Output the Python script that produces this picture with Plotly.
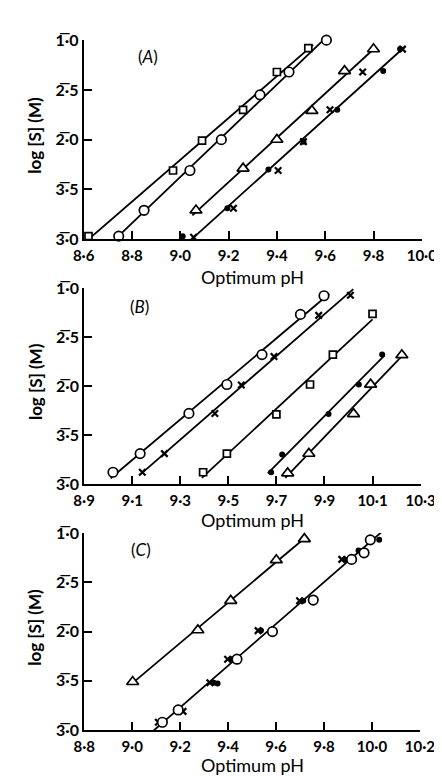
import numpy as np
import plotly.graph_objects as go

# ---------------- data ----------------
# Panel A
a_sq_x = [8.62, 8.97, 9.09, 9.26, 9.40, 9.53]
a_sq_y = [-2.97, -2.31, -2.01, -1.70, -1.32, -1.08]
a_ci_x = [8.745, 8.85, 9.04, 9.17, 9.33, 9.45, 9.605]
a_ci_y = [-2.97, -2.71, -2.31, -2.00, -1.55, -1.32, -1.00]
a_tr_x = [9.065, 9.26, 9.40, 9.545, 9.68, 9.80]
a_tr_y = [-2.71, -2.29, -2.00, -1.71, -1.31, -1.09]
a_dot_x = [9.01, 9.195, 9.365, 9.51, 9.65, 9.84, 9.91]
a_dot_y = [-2.97, -2.69, -2.30, -2.02, -1.70, -1.31, -1.09]
a_x_x = [9.055, 9.22, 9.405, 9.51, 9.62, 9.755, 9.92]
a_x_y = [-2.98, -2.69, -2.31, -2.02, -1.70, -1.32, -1.09]

# Panel B
b_ci_x = [9.02, 9.133, 9.336, 9.494, 9.64, 9.80, 9.898]
b_ci_y = [-2.88, -2.69, -2.28, -1.985, -1.68, -1.27, -1.08]
b_x_x = [9.142, 9.234, 9.444, 9.554, 9.69, 9.876, 10.008]
b_x_y = [-2.88, -2.69, -2.28, -1.99, -1.70, -1.28, -1.075]
b_sq_x = [9.395, 9.494, 9.70, 9.84, 9.935, 10.10]
b_sq_y = [-2.88, -2.69, -2.29, -1.985, -1.68, -1.265]
b_dot_x = [9.678, 9.724, 9.917, 10.043, 10.14]
b_dot_y = [-2.88, -2.70, -2.285, -1.985, -1.68]
b_tr_x = [9.747, 9.835, 10.021, 10.092, 10.222]
b_tr_y = [-2.89, -2.69, -2.285, -1.985, -1.685]

# Panel C
c_tr_x = [9.002, 9.274, 9.411, 9.601, 9.718]
c_tr_y = [-2.51, -1.985, -1.686, -1.274, -1.06]
c_ci_x = [9.126, 9.192, 9.437, 9.585, 9.755, 9.915, 9.967, 9.993]
c_ci_y = [-2.92, -2.795, -2.28, -2.00, -1.68, -1.267, -1.20, -1.069]
c_x_x = [9.109, 9.212, 9.324, 9.398, 9.525, 9.698, 9.874]
c_x_y = [-2.92, -2.81, -2.52, -2.28, -1.99, -1.686, -1.267]
c_dot_x = [9.34, 9.356, 9.415, 9.537, 9.713, 9.886, 9.944, 10.03]
c_dot_y = [-2.52, -2.528, -2.28, -1.99, -1.686, -1.267, -1.178, -1.069]

# x ranges of the fitted lines
a_line_ranges = [(8.60, 9.55), (8.73, 9.62), (9.05, 9.81), (9.04, 9.925)]
b_line_ranges = [(9.01, 9.92), (9.133, 10.02), (9.39, 10.10), (9.664, 10.15), (9.737, 10.235)]
c_line_ranges = [(9.0, 9.72), (9.09, 10.04)]

# axis ticks
a_xticks = [8.6, 8.8, 9.0, 9.2, 9.4, 9.6, 9.8, 10.0]
a_xtext = ["8·6", "8·8", "9·0", "9·2", "9·4", "9·6", "9·8", "10·0"]
b_xticks = [8.9, 9.1, 9.3, 9.5, 9.7, 9.9, 10.1, 10.3]
b_xtext = ["8·9", "9·1", "9·3", "9·5", "9·7", "9·9", "10·1", "10·3"]
c_xticks = [8.8, 9.0, 9.2, 9.4, 9.6, 9.8, 10.0, 10.2]
c_xtext = ["8·8", "9·0", "9·2", "9·4", "9·6", "9·8", "10·0", "10·2"]
y_ticks = [-3.0, -2.5, -2.0, -1.5, -1.0]
y_text = ["3\u0305·0", "3\u0305·5", "2\u0305·0", "2\u0305·5", "1\u0305·0"]
panel_labels = ["(<i>A</i>)", "(<i>B</i>)", "(<i>C</i>)"]
x_title = "Optimum pH"
y_title = "log [S] (M)"

# ---------------- styles ----------------
W, H = 442, 776
BLACK = "black"
FONT = "Lato"


def mk(kind):
    if kind == "circle":
        return dict(symbol="circle", size=9.5, color="white", line=dict(width=1.7, color=BLACK))
    if kind == "square":
        return dict(symbol="square", size=7, color="white", line=dict(width=1.7, color=BLACK))
    if kind == "triangle":
        return dict(symbol="triangle-up", size=10.5, color="white", line=dict(width=1.7, color=BLACK))
    if kind == "dot":
        return dict(symbol="circle", size=6, color=BLACK, line=dict(width=0))
    return dict(symbol="x-thin", size=6.5, color=BLACK, line=dict(width=2.2, color=BLACK))


panels = [
    dict(
        series=[("square", a_sq_x, a_sq_y), ("circle", a_ci_x, a_ci_y), ("triangle", a_tr_x, a_tr_y),
                ("dot", a_dot_x, a_dot_y), ("cross", a_x_x, a_x_y)],
        lines=[([(a_sq_x, a_sq_y)], a_line_ranges[0]),
               ([(a_ci_x, a_ci_y)], a_line_ranges[1]),
               ([(a_tr_x, a_tr_y)], a_line_ranges[2]),
               ([(a_dot_x, a_dot_y), (a_x_x, a_x_y)], a_line_ranges[3])],
        xr=[8.6, 10.0], ticks=(a_xticks, a_xtext),
        xdom=[68.7 / W, 428 / W], ypx=(22.7, 226.7), title_y=266,
        lab=(0.19, 0.92),
    ),
    dict(
        series=[("circle", b_ci_x, b_ci_y), ("cross", b_x_x, b_x_y), ("square", b_sq_x, b_sq_y),
                ("dot", b_dot_x, b_dot_y), ("triangle", b_tr_x, b_tr_y)],
        lines=[([(b_ci_x, b_ci_y)], b_line_ranges[0]),
               ([(b_x_x, b_x_y)], b_line_ranges[1]),
               ([(b_sq_x, b_sq_y)], b_line_ranges[2]),
               ([(b_dot_x, b_dot_y)], b_line_ranges[3]),
               ([(b_tr_x, b_tr_y)], b_line_ranges[4])],
        xr=[8.9, 10.3], ticks=(b_xticks, b_xtext),
        xdom=[69.2 / W, 426.7 / W], ypx=(276.7, 477.7), title_y=515,
        lab=(0.164, 0.904),
    ),
    dict(
        series=[("triangle", c_tr_x, c_tr_y), ("cross", c_x_x, c_x_y), ("dot", c_dot_x, c_dot_y),
                ("circle", c_ci_x, c_ci_y)],
        lines=[([(c_tr_x, c_tr_y)], c_line_ranges[0]),
               ([(c_ci_x, c_ci_y), (c_x_x, c_x_y), (c_dot_x, c_dot_y)], c_line_ranges[1])],
        xr=[8.8, 10.2], ticks=(c_xticks, c_xtext),
        xdom=[69.3 / W, 426 / W], ypx=(528, 730), title_y=766,
        lab=(0.17, 0.916),
    ),
]

fig = go.Figure()
annotations = []
layout = {}

for i, p in enumerate(panels):
    n = "" if i == 0 else str(i + 1)
    xa, ya = "x" + n, "y" + n
    # fitted lines
    for groups, (x0, x1) in p["lines"]:
        gx = np.concatenate([np.asarray(g[0], float) for g in groups])
        gy = np.concatenate([np.asarray(g[1], float) for g in groups])
        slope, icpt = np.polyfit(gx, gy, 1)
        lx = np.array([x0, x1])
        fig.add_trace(go.Scatter(x=lx, y=slope * lx + icpt, mode="lines",
                                 line=dict(color=BLACK, width=1.8),
                                 xaxis=xa, yaxis=ya, showlegend=False, hoverinfo="skip"))
    # markers
    for kind, sx, sy in p["series"]:
        fig.add_trace(go.Scatter(x=sx, y=sy, mode="markers", marker=mk(kind),
                                 cliponaxis=False, xaxis=xa, yaxis=ya, showlegend=False))
    top, bot = p["ypx"]
    ydom = [1 - bot / H, 1 - top / H]
    common = dict(showline=True, linecolor=BLACK, linewidth=2, ticks="inside",
                  ticklen=8, tickwidth=2, tickcolor=BLACK, showgrid=False, zeroline=False,
                  tickfont=dict(family=FONT, size=15, color=BLACK, weight="bold"),
                  ticklabeloverflow="allow")
    layout["xaxis" + n] = dict(common, domain=p["xdom"], range=p["xr"], anchor=ya,
                               tickmode="array", tickvals=p["ticks"][0], ticktext=p["ticks"][1],
                               ticklabelstandoff=2)
    layout["yaxis" + n] = dict(common, domain=ydom, range=[-3.0, -1.0], anchor=xa,
                               tickmode="array", tickvals=y_ticks, ticktext=y_text,
                               tickfont=dict(family=FONT, size=16, color=BLACK, weight="bold"))
    # x title
    annotations.append(dict(text=x_title, xref="paper", yref="paper",
                            x=(p["xdom"][0] + p["xdom"][1]) / 2, y=1 - p["title_y"] / H,
                            xanchor="center", yanchor="middle", showarrow=False,
                            font=dict(family=FONT, size=18, color=BLACK)))
    # y title
    annotations.append(dict(text=y_title, xref="paper", yref="paper",
                            x=17 / W, y=1 - ((top + bot) / 2 - 4) / H, textangle=-90,
                            xanchor="center", yanchor="middle", showarrow=False,
                            font=dict(family=FONT, size=17, color=BLACK, weight="bold")))
    # panel label
    annotations.append(dict(text=panel_labels[i], xref=xa + " domain", yref=ya + " domain",
                            x=p["lab"][0], y=p["lab"][1], xanchor="center", yanchor="middle",
                            showarrow=False, font=dict(family=FONT, size=17, color=BLACK)))

fig.update_layout(
    width=W, height=H, margin=dict(l=0, r=0, t=0, b=0),
    paper_bgcolor="white", plot_bgcolor="white",
    annotations=annotations, showlegend=False, **layout,
)

fig.write_html("out.html")
